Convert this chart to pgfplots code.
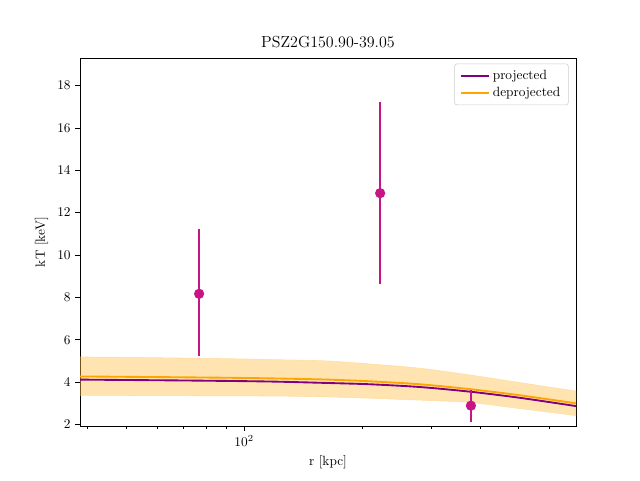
\documentclass[border=0pt]{standalone}
\usepackage{pgfplots}
\pgfplotsset{compat=1.18}
\definecolor{proj}{HTML}{800080}
\definecolor{deproj}{HTML}{FFA500}
\definecolor{pts}{HTML}{C71585}
\begin{document}
\begin{tikzpicture}
\useasboundingbox (-60pt,-40.5pt) rectangle (420pt,319.5pt);
\begin{axis}[
  scale only axis, width=372pt, height=276pt,
  xmode=log, xmin=38.2, xmax=700, ymin=1.93, ymax=19.3,
  ytick={2,4,6,8,10,12,14,16,18},
  xtick={100}, xticklabels={$10^2$},
  minor xtick={40,50,60,70,80,90,200,300,400,500,600},
  tick align=outside, xtick pos=bottom, ytick pos=left,
  major tick length=3.5pt, minor tick length=2pt,
  tick style={black, line width=0.6pt},
  axis line style={line width=0.6pt},
  title={PSZ2G150.90-39.05},
  xlabel={r [kpc]}, ylabel={kT [keV]},
  every axis title/.style={at={(0.5,1)}, anchor=south, yshift=4pt, font=\large},
  legend style={at={(0.985,0.985)}, anchor=north east, draw=black!20, rounded corners=2pt, inner xsep=4pt, inner ysep=3pt},
  legend cell align=left,
  legend image code/.code={\draw[#1] (0cm,0cm) -- (0.75cm,0cm);},
]
\addplot[draw=deproj!50, draw opacity=0.6, fill=deproj, fill opacity=0.3, smooth, forget plot] coordinates {
(38.2,5.19) (38.2,5.19) (51.2,5.17) (68.7,5.14) (97.6,5.1) (123.4,5.06) (163.5,5.0) (209,4.86) (280,4.66) (376,4.34) (504,3.98) (700,3.58) (700,3.58)
(700,2.42) (700,2.42) (504,2.75) (376,3.04) (280,3.15) (209,3.24) (163.5,3.3) (123.4,3.34) (97.6,3.35) (68.7,3.36) (51.2,3.37) (38.2,3.38) (38.2,3.38)
} -- cycle;
\addplot[proj, line width=1.4pt, smooth] coordinates {
(38.2,4.12) (51.2,4.1) (68.7,4.08) (97.6,4.05) (123.4,4.02) (163.5,3.96) (209,3.9) (280,3.77) (376,3.55) (504,3.26) (700,2.87)
};
\addlegendentry{projected}
\addplot[deproj, line width=1.4pt, smooth] coordinates {
(38.2,4.27) (51.2,4.25) (68.7,4.23) (97.6,4.2) (123.4,4.17) (163.5,4.12) (209,4.04) (280,3.9) (376,3.67) (504,3.38) (700,3.0)
};
\addlegendentry{deprojected}
\addplot[pts, line width=1.2pt, only marks, mark=*, mark size=3.2pt, mark options={fill=pts, draw=pts},
  error bars/.cd, y dir=both, y explicit, error mark=none, error bar style={line width=1.2pt, pts}]
  coordinates {
(76.8,8.17) -= (0,2.95) += (0,3.05)
(222,12.92) -= (0,4.28) += (0,4.28)
(378,2.89) -= (0,0.75) += (0,0.76)
};
\end{axis}
\end{tikzpicture}
\end{document}
